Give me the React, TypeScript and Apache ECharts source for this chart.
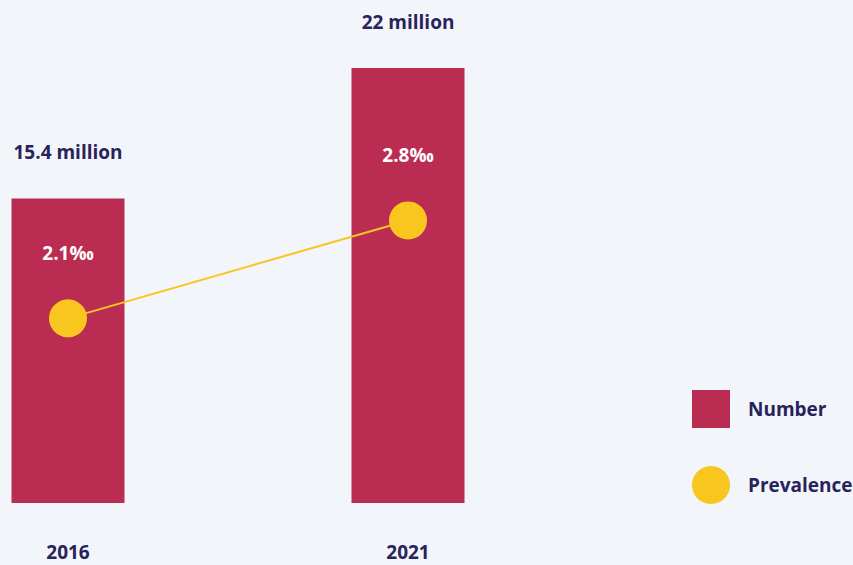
import React, { useEffect, useRef } from "react";
import * as echarts from "echarts";

const years = ["2016", "2021"];
const numberMillions = [15.4, 22];
const prevalencePerMille = [2.1, 2.8];

const NAVY = "#28235c";
const CRIMSON = "#bb2c53";
const YELLOW = "#f9c51f";
const FONT = "'Open Sans', 'Noto Sans', sans-serif";

export default function App() {
  const ref = useRef<HTMLDivElement>(null);
  useEffect(() => {
    if (!ref.current) return;
    const chart = echarts.init(ref.current, null, { renderer: "svg" });
    chart.setOption({
      animation: false,
      backgroundColor: "#f2f5f9",
      textStyle: { fontFamily: FONT },
      grid: { left: 68, right: 445, top: 68, bottom: 62, containLabel: false },
      legend: {
        orient: "vertical",
        left: 692,
        top: 390,
        padding: 0,
        itemWidth: 38,
        itemHeight: 38,
        itemGap: 38,
        textStyle: { color: NAVY, fontSize: 19, fontWeight: "bold", fontFamily: FONT, padding: [0, 0, 0, 13] },
        data: [
          { name: "Number", icon: "rect" },
          { name: "Prevalence", icon: "circle" },
        ],
      },
      xAxis: {
        type: "category",
        data: years,
        boundaryGap: false,
        axisLine: { show: false },
        axisTick: { show: false },
        axisLabel: { color: NAVY, fontSize: 19, fontWeight: "bold", fontFamily: FONT, margin: 39 },
      },
      yAxis: [
        { type: "value", min: 0, max: 22, show: false, splitLine: { show: false } },
        { type: "value", min: 0.78, max: 3.89, show: false, splitLine: { show: false } },
      ],
      series: [
        {
          name: "Number",
          type: "bar",
          data: numberMillions,
          barWidth: 113,
          itemStyle: { color: CRIMSON },
          label: {
            show: true,
            position: "top",
            distance: 37,
            color: NAVY,
            fontSize: 19,
            fontWeight: "bold",
            fontFamily: FONT,
            formatter: (p: any) => `${p.value} million`,
          },
        },
        {
          name: "Prevalence",
          type: "line",
          yAxisIndex: 1,
          data: prevalencePerMille,
          symbol: "circle",
          symbolSize: 38,
          lineStyle: { color: YELLOW, width: 2 },
          itemStyle: { color: YELLOW },
          z: 5,
          label: {
            show: true,
            position: "top",
            distance: 37,
            color: "#ffffff",
            fontSize: 19,
            fontWeight: "bold",
            fontFamily: FONT,
            formatter: (p: any) => `${p.value}‰`,
          },
        },
      ],
    });
    return () => chart.dispose();
  }, []);
  return <div ref={ref} style={{ width: 853, height: 565, position: "absolute", left: 0, top: 0 }} />;
}
